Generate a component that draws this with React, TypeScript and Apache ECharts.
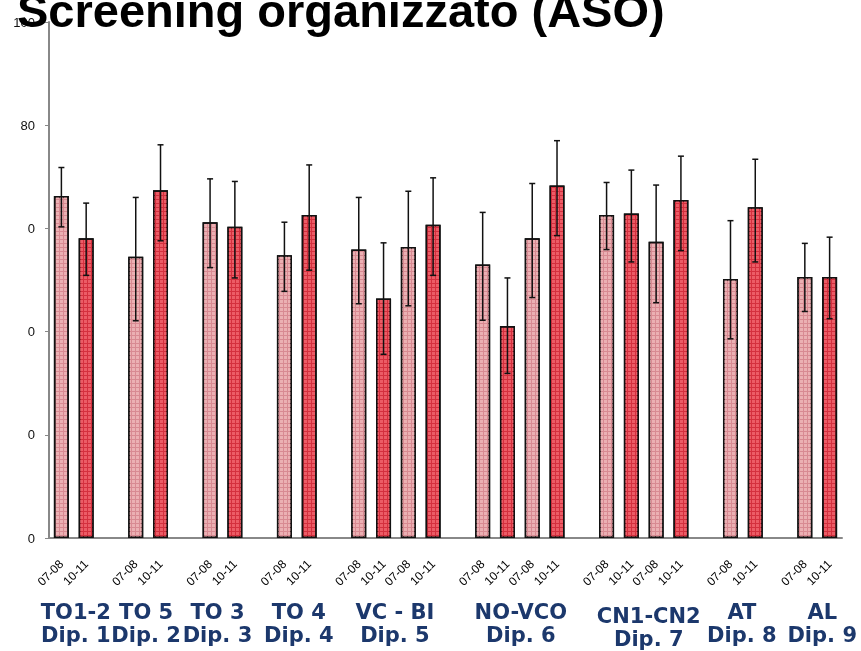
import React, { useEffect, useRef } from "react";
import * as echarts from "echarts";

// ---- data ----
const titleText = "Screening organizzato (ASO)";
const groupNames = ["TO1-2", "TO 5", "TO 3", "TO 4", "VC - BI", "NO-VCO", "CN1-CN2", "AT", "AL"];
const groupDips = ["Dip. 1", "Dip. 2", "Dip. 3", "Dip. 4", "Dip. 5", "Dip. 6", "Dip. 7", "Dip. 8", "Dip. 9"];
const groupSizes = [2, 2, 2, 2, 4, 4, 4, 2, 2];
const periods = [
  "07-08", "10-11", "07-08", "10-11", "07-08", "10-11", "07-08", "10-11",
  "07-08", "10-11", "07-08", "10-11",
  "07-08", "10-11", "07-08", "10-11",
  "07-08", "10-11", "07-08", "10-11",
  "07-08", "10-11", "07-08", "10-11",
];
const values = [66.3, 58.1, 54.5, 67.4, 61.2, 60.3, 54.8, 62.6, 55.9, 46.4, 56.4, 60.7, 53.0, 41.1, 58.1, 68.3, 62.6, 62.9, 57.4, 65.5, 50.2, 64.1, 50.6, 50.6];
const upper = [71.8, 64.9, 66.0, 76.2, 69.6, 69.1, 61.2, 72.3, 66.0, 57.2, 67.2, 69.8, 63.1, 50.4, 68.7, 77.0, 68.9, 71.3, 68.4, 74.0, 61.5, 73.4, 57.1, 58.3];
const lower = [60.3, 50.9, 42.1, 57.6, 52.4, 50.4, 47.8, 51.9, 45.4, 35.6, 45.0, 50.9, 42.2, 31.9, 46.6, 58.6, 55.9, 53.5, 45.6, 55.7, 38.6, 53.5, 43.9, 42.5];
const yMin = 0;
const yMax = 100;
const yStep = 20;

// small horizontal nudges of the group captions, as placed in the reference
const groupLabelDx = [2, -2, -5, 2, -1, 1, 5, -1, 5];
const groupLabelDy = [0, 0, 0, 0, 0, 0, 4, 0, 0];

// ---- derived structures ----
const slotLabels: string[] = [];
const barSlot: number[] = [];
const groupSlots: number[][] = [];
{
  let b = 0;
  groupSizes.forEach((n, g) => {
    const s: number[] = [];
    for (let i = 0; i < n; i++) {
      barSlot.push(slotLabels.length);
      s.push(slotLabels.length);
      slotLabels.push(periods[b]);
      b++;
    }
    groupSlots.push(s);
    if (g < groupSizes.length - 1) slotLabels.push("");
  });
}
const slotIds = slotLabels.map((_, i) => "s" + i);
const lightData: (number | null)[] = slotLabels.map(() => null);
const redData: (number | null)[] = slotLabels.map(() => null);
values.forEach((v, i) => {
  if (periods[i] === "07-08") lightData[barSlot[i]] = v;
  else redData[barSlot[i]] = v;
});
const errData = values.map((_, i) => [barSlot[i], lower[i], upper[i]]);

const GROUP_FONT = 'bold 21px "DejaVu Sans", Verdana, sans-serif';
const GROUP_COLOR = "#1c386c";

export default function App() {
  const ref = useRef<HTMLDivElement>(null);
  useEffect(() => {
    if (!ref.current) return;
    const chart = echarts.init(ref.current, undefined, { renderer: "svg" });
    const baseGraphic: any[] = [
      {
        id: "mask",
        type: "rect",
        z: 100,
        shape: { x: 0, y: 150, width: 28, height: 370 },
        style: { fill: "#ffffff" },
      },
      {
        id: "title",
        type: "text",
        z: 110,
        x: 17,
        y: -13,
        style: {
          text: titleText,
          font: 'bold 47px "Liberation Sans", Arial, sans-serif',
          fill: "#000",
          verticalAlign: "top",
        },
      },
    ];
    const errStyle = { stroke: "#111", lineWidth: 1.5 };
    chart.setOption({
      animation: false,
      grid: { left: 49, right: 19, top: 22, bottom: 113, containLabel: false },
      xAxis: {
        type: "category",
        data: slotIds,
        boundaryGap: true,
        axisLine: { show: true, lineStyle: { color: "#888", width: 2 } },
        axisTick: { show: false },
        axisLabel: {
          interval: 0,
          rotate: 45,
          margin: 24,
          fontSize: 12,
          fontFamily: '"Liberation Sans", Arial, sans-serif',
          color: "#000",
          formatter: (_: string, idx: number) => slotLabels[idx],
        },
        splitLine: { show: false },
      },
      yAxis: {
        type: "value",
        min: yMin,
        max: yMax,
        interval: yStep,
        axisLine: { show: true, lineStyle: { color: "#888", width: 2 } },
        axisTick: { show: true, inside: false, length: 4, lineStyle: { color: "#888", width: 1 } },
        axisLabel: {
          margin: 14,
          fontSize: 13,
          fontFamily: '"Liberation Sans", Arial, sans-serif',
          color: "#111",
        },
        splitLine: { show: false },
      },
      series: [
        {
          type: "bar",
          name: "07-08",
          stack: "all",
          barWidth: 15,
          data: lightData,
          itemStyle: {
            color: "#d88a92",
            borderColor: "#111",
            borderWidth: 1.5,
            decal: {
              symbol: "rect",
              symbolSize: 1,
              color: "#ebb0b3",
              dashArrayX: [3, 1],
              dashArrayY: [3, 1],
              rotation: 0,
            },
          },
        },
        {
          type: "bar",
          name: "10-11",
          stack: "all",
          barWidth: 15,
          data: redData,
          itemStyle: {
            color: "#d4303e",
            borderColor: "#111",
            borderWidth: 1.5,
            decal: {
              symbol: "rect",
              symbolSize: 1,
              color: "#ec5c66",
              dashArrayX: [3, 1],
              dashArrayY: [3, 1],
              rotation: 0,
            },
          },
        },
        {
          type: "custom",
          name: "err",
          data: errData,
          encode: { x: 0, y: [1, 2] },
          z: 10,
          renderItem: (_params: any, api: any) => {
            const x = api.value(0);
            const lo = api.coord([x, api.value(1)]);
            const hi = api.coord([x, api.value(2)]);
            const w = 3;
            return {
              type: "group",
              children: [
                { type: "line", shape: { x1: lo[0], y1: lo[1], x2: hi[0], y2: hi[1] }, style: errStyle },
                { type: "line", shape: { x1: hi[0] - w, y1: hi[1], x2: hi[0] + w, y2: hi[1] }, style: errStyle },
                { type: "line", shape: { x1: lo[0] - w, y1: lo[1], x2: lo[0] + w, y2: lo[1] }, style: errStyle },
              ],
            };
          },
        },
      ],
      graphic: baseGraphic,
    });

    const groupGraphic: any[] = [];
    groupSlots.forEach((s, g) => {
      const x0 = chart.convertToPixel({ xAxisIndex: 0 }, s[0]) as number;
      const x1 = chart.convertToPixel({ xAxisIndex: 0 }, s[s.length - 1]) as number;
      const cx = (x0 + x1) / 2 + groupLabelDx[g];
      const dy = groupLabelDy[g];
      groupGraphic.push({
        id: "gn" + g,
        type: "text",
        z: 50,
        x: cx,
        y: 612 + dy,
        style: { text: groupNames[g], font: GROUP_FONT, fill: GROUP_COLOR, align: "center", verticalAlign: "middle" },
      });
      groupGraphic.push({
        id: "gd" + g,
        type: "text",
        z: 50,
        x: cx,
        y: 635 + dy,
        style: { text: groupDips[g], font: GROUP_FONT, fill: GROUP_COLOR, align: "center", verticalAlign: "middle" },
      });
    });
    chart.setOption({ graphic: [...baseGraphic, ...groupGraphic] });

    return () => chart.dispose();
  }, []);
  return (
    <div
      ref={ref}
      style={{ position: "fixed", left: 0, top: 0, width: 861, height: 651 }}
    />
  );
}
